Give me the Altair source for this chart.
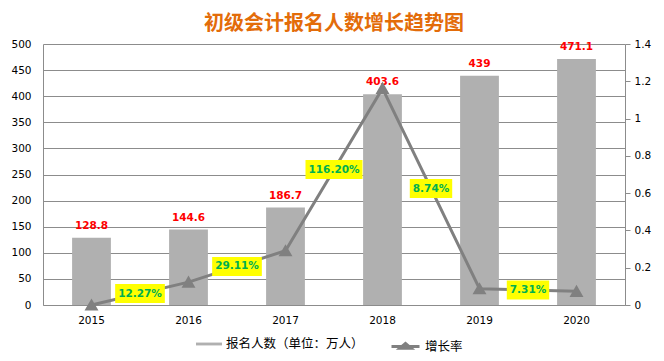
import altair as alt
import pandas as pd

years = ["2015", "2016", "2017", "2018", "2019", "2020"]
applicants = [128.8, 144.6, 186.7, 403.6, 439, 471.1]
growth = [0, 0.1227, 0.2911, 1.162, 0.0874, 0.0731]
growth_labels = ["12.27%", "29.11%", "116.20%", "8.74%", "7.31%"]
left_ticks = [0, 50, 100, 150, 200, 250, 300, 350, 400, 450, 500]
right_ticks = [0, 0.2, 0.4, 0.6, 0.8, 1.0, 1.2, 1.4]
bar_name = "报名人数（单位：万人）"
line_name = "增长率"
title_text = "初级会计报名人数增长趋势图"

GRAY_BAR = "#B0B0B0"
GRAY_LINE = "#808080"
AXIS_GRAY = "#8C8C8C"

df = pd.DataFrame({"year": years, "applicants": applicants, "growth": growth})
df["bar_series"] = bar_name
df["line_series"] = line_name

# label position: midpoint of each segment of the growth line
mid = [(growth[i] + growth[i + 1]) / 2 for i in range(len(growth) - 1)]


def box_path(label):
    w = sum(7.3 if c.isdigit() else (4 if c == "." else 10.5) for c in label) + 6
    hw = w / 2 / 50
    off = 0.97
    hh = 0.19
    return f"M{off - hw:.3f},{-hh}H{off + hw:.3f}V{hh}H{off - hw:.3f}Z"


lab = pd.DataFrame({
    "year": years[:-1],
    "label": growth_labels,
    "mid": mid,
    "box": [box_path(l) for l in growth_labels],
})

X = alt.X(
    "year:N",
    title=None,
    scale=alt.Scale(paddingInner=0.6, paddingOuter=0.3),
    axis=alt.Axis(labelAngle=0, ticks=False, domainColor=AXIS_GRAY, labelPadding=10),
)

left_axis = alt.Axis(values=left_ticks, grid=True, gridColor=AXIS_GRAY, ticks=False,
                     domainColor=AXIS_GRAY, labelPadding=12, labelOverlap=False)
lscale = alt.Scale(domain=[0, 500], nice=False)

right_axis = alt.Axis(orient="right", values=right_ticks, format="~g", grid=False,
                      ticks=True, tickSize=5, tickColor=AXIS_GRAY,
                      domainColor=AXIS_GRAY, labelPadding=4, labelOverlap=False)
rscale = alt.Scale(domain=[0, 1.4], nice=False)

bars = alt.Chart(df).mark_bar().encode(
    x=X,
    y=alt.Y("applicants:Q", title=None, scale=lscale, axis=left_axis),
    fill=alt.Fill(
        "bar_series:N",
        scale=alt.Scale(domain=[bar_name], range=[GRAY_BAR]),
        legend=alt.Legend(
            title=None, orient="none", legendX=153, legendY=287,
            symbolType="M-1,-0.11H1V0.11H-1Z", symbolSize=676, symbolStrokeWidth=0,
            labelFont="Noto Sans CJK SC", labelFontSize=12.5, labelColor="#000000",
        ),
    ),
)

bar_text = alt.Chart(df).mark_text(
    dy=-9, baseline="alphabetic", color="#FF0000", font="DejaVu Sans",
    fontSize=10.5, fontWeight="bold",
).encode(
    x=X,
    y=alt.Y("applicants:Q", title=None, scale=lscale, axis=left_axis),
    text=alt.Text("applicants:Q"),
)

line = alt.Chart(df).mark_line(
    strokeWidth=3,
    point=alt.OverlayMarkDef(shape="triangle-up", size=110, filled=True,
                             fill=GRAY_LINE, opacity=1),
).encode(
    x=X,
    y=alt.Y("growth:Q", title=None, scale=rscale, axis=right_axis),
    stroke=alt.Stroke(
        "line_series:N",
        scale=alt.Scale(domain=[line_name], range=[GRAY_LINE]),
        legend=alt.Legend(
            title=None, orient="none", legendX=347, legendY=287,
            symbolType="M-1,0H1M-0.4,0.12L0,-0.22L0.4,0.12Z", symbolSize=784,
            symbolStrokeWidth=3, symbolFillColor=GRAY_LINE,
            labelFont="Noto Sans CJK SC", labelFontSize=12.5, labelColor="#000000",
        ),
    ),
)

boxes = alt.Chart(lab).mark_point(
    filled=True, fill="#FFFF00", opacity=1, size=10000, strokeWidth=0,
).encode(
    x=X,
    y=alt.Y("mid:Q", title=None, scale=rscale, axis=right_axis),
    shape=alt.Shape("box:N", scale=None),
)

gtext = alt.Chart(lab).mark_text(
    dx=48.5, baseline="middle", color="#00B050", font="DejaVu Sans",
    fontSize=10.5, fontWeight="bold",
).encode(
    x=X,
    y=alt.Y("mid:Q", title=None, scale=rscale, axis=right_axis),
    text="label:N",
)

left = alt.layer(bars, bar_text)
right = alt.layer(line, boxes, gtext)

chart = alt.layer(left, right).resolve_scale(y="independent").properties(
    width=582,
    height=261,
    autosize=alt.AutoSizeParams(type="none"),
    padding={"left": 35, "top": 36, "right": 31, "bottom": 48},
    background="#FFFFFF",
    title=alt.TitleParams(
        text=title_text, font="Noto Sans CJK SC", fontSize=20, fontWeight="bold",
        color="#E36C09", anchor="middle", offset=6, baseline="bottom", dy=21,
    ),
).configure_axis(
    labelFont="DejaVu Sans", labelFontSize=10.5, labelColor="#000000",
).configure_view(strokeWidth=0)

chart.save("out.html", embed_options={"renderer": "svg", "actions": False})
